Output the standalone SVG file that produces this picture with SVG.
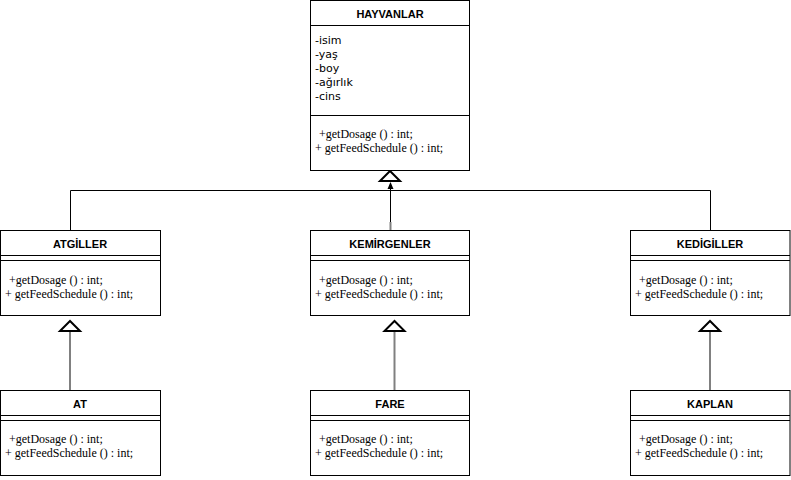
<svg xmlns="http://www.w3.org/2000/svg" width="791" height="480" viewBox="0 0 791 480">
<defs>
<style>
.box{fill:#fff;stroke:#000;stroke-width:1}
.ln{stroke:#000;stroke-width:1;fill:none}
.gray{stroke:#808080;stroke-width:2;fill:none}
.tri{fill:#fff;stroke:#000;stroke-width:2;stroke-linejoin:miter}
.title{font-family:"Liberation Sans",Arial,sans-serif;font-weight:bold;font-size:11px;text-anchor:middle;fill:#000}
.attr{font-family:"DejaVu Sans","Liberation Sans",sans-serif;font-size:11px;fill:#000}
.op{font-family:"Liberation Serif","Times New Roman",serif;font-size:12px;fill:#000}
</style>
</defs>
<rect width="791" height="480" fill="#fff"/>
<g id="connectors">
<polyline class="ln" points="70.5,230 70.5,190.5 710.5,190.5 710.5,230"/>
<line class="ln" x1="390.5" y1="186" x2="390.5" y2="224"/>
<line class="gray" x1="390.5" y1="222" x2="390.5" y2="230"/>
<polygon points="390.5,182 387.5,189 393.5,189" fill="#000"/>
<polygon class="tri" points="390,171 380,181 400,181"/>
<line class="gray" x1="70" y1="331" x2="70" y2="390"/>
<polygon class="tri" points="70,321 60,331 80,331"/>
<line class="gray" x1="394.5" y1="331" x2="394.5" y2="390"/>
<polygon class="tri" points="394.5,321 384.5,331 404.5,331"/>
<line class="gray" x1="710" y1="331" x2="710" y2="390"/>
<polygon class="tri" points="710,321 700,331 720,331"/>
</g>
<g id="hayvanlar">
<rect class="box" x="310.5" y="0.5" width="159" height="170"/>
<line class="ln" x1="310.5" y1="25.5" x2="469.5" y2="25.5"/>
<line class="ln" x1="310.5" y1="115.5" x2="469.5" y2="115.5"/>
<text class="title" x="390" y="18">HAYVANLAR</text>
<text class="attr" x="315" y="44">-isim</text>
<text class="attr" x="315" y="58">-yaş</text>
<text class="attr" x="315" y="72">-boy</text>
<text class="attr" x="315" y="86">-ağırlık</text>
<text class="attr" x="315" y="100">-cins</text>
<text class="op" x="319" y="138">+getDosage () : int;</text>
<text class="op" x="315" y="152">+ getFeedSchedule () : int;</text>
</g>
<g id="atgiller">
<rect class="box" x="0.5" y="230.5" width="160" height="85"/>
<line class="ln" x1="0.5" y1="255.5" x2="160.5" y2="255.5"/>
<line class="ln" x1="0.5" y1="260.5" x2="160.5" y2="260.5"/>
<text class="title" x="80" y="248">ATGİLLER</text>
<text class="op" x="9" y="284">+getDosage () : int;</text>
<text class="op" x="5" y="298">+ getFeedSchedule () : int;</text>
</g>
<g id="kemirgenler">
<rect class="box" x="310.5" y="230.5" width="159" height="85"/>
<line class="ln" x1="310.5" y1="255.5" x2="469.5" y2="255.5"/>
<line class="ln" x1="310.5" y1="260.5" x2="469.5" y2="260.5"/>
<text class="title" x="390" y="248">KEMİRGENLER</text>
<text class="op" x="319" y="284">+getDosage () : int;</text>
<text class="op" x="315" y="298">+ getFeedSchedule () : int;</text>
</g>
<g id="kedigiller">
<rect class="box" x="630.5" y="230.5" width="159.5" height="85"/>
<line class="ln" x1="630.5" y1="255.5" x2="790" y2="255.5"/>
<line class="ln" x1="630.5" y1="260.5" x2="790" y2="260.5"/>
<text class="title" x="710" y="248">KEDİGİLLER</text>
<text class="op" x="639" y="284">+getDosage () : int;</text>
<text class="op" x="635" y="298">+ getFeedSchedule () : int;</text>
</g>
<g id="at">
<rect class="box" x="0.5" y="390.5" width="160" height="85"/>
<line class="ln" x1="0.5" y1="415.5" x2="160.5" y2="415.5"/>
<line class="ln" x1="0.5" y1="420.5" x2="160.5" y2="420.5"/>
<text class="title" x="80" y="408">AT</text>
<text class="op" x="9" y="443">+getDosage () : int;</text>
<text class="op" x="5" y="457">+ getFeedSchedule () : int;</text>
</g>
<g id="fare">
<rect class="box" x="310.5" y="390.5" width="159" height="85"/>
<line class="ln" x1="310.5" y1="415.5" x2="469.5" y2="415.5"/>
<line class="ln" x1="310.5" y1="420.5" x2="469.5" y2="420.5"/>
<text class="title" x="390" y="408">FARE</text>
<text class="op" x="319" y="443">+getDosage () : int;</text>
<text class="op" x="315" y="457">+ getFeedSchedule () : int;</text>
</g>
<g id="kaplan">
<rect class="box" x="630.5" y="390.5" width="159.5" height="85"/>
<line class="ln" x1="630.5" y1="415.5" x2="790" y2="415.5"/>
<line class="ln" x1="630.5" y1="420.5" x2="790" y2="420.5"/>
<text class="title" x="710" y="408">KAPLAN</text>
<text class="op" x="639" y="443">+getDosage () : int;</text>
<text class="op" x="635" y="457">+ getFeedSchedule () : int;</text>
</g>
</svg>
